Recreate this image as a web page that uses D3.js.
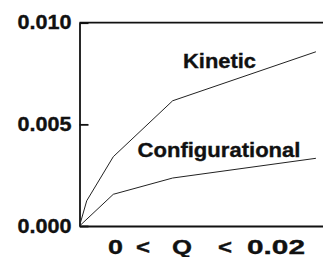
<!DOCTYPE html>
<html><head><meta charset="utf-8">
<script src="https://cdn.jsdelivr.net/npm/d3@7"></script>
<style>
html,body{margin:0;padding:0;background:#fff;}
text{font-family:"Liberation Sans",Arial,Helvetica,sans-serif;font-weight:bold;fill:#111;stroke:#111;stroke-width:0.35;}
</style></head>
<body><svg id="c" width="323" height="257"></svg>
<script>
const qValues = [0, 0.00061, 0.00286, 0.00788, 0.0200];
const kinetic = [0, 0.00124, 0.00341, 0.00616, 0.00857];
const configQ = [0, 0.00286, 0.00788, 0.0200];
const configurational = [0, 0.00156, 0.00236, 0.00333];
const yTicks = [0, 0.005, 0.010];
const seriesLabels = ["Kinetic", "Configurational"];
const xAxisTokens = ["0", "<", "Q", "<", "0.02"];

const svg = d3.select("#c");
const x = d3.scaleLinear().domain([0, 0.0206]).range([79.5, 323]);
const y = d3.scaleLinear().domain([0, 0.010]).range([226, 22.7]);

svg.append("line").attr("x1", x(0)).attr("x2", 323).attr("y1", y(0.010)).attr("y2", y(0.010))
  .attr("stroke", "#111").attr("stroke-width", 1.8);

const yAxis = svg.append("g").attr("transform", `translate(${x(0)},0)`)
  .call(d3.axisLeft(y).tickValues(yTicks).tickFormat(d3.format(".3f")).tickSize(-9).tickSizeOuter(0).tickPadding(8));
yAxis.select(".domain").attr("stroke", "#111").attr("stroke-width", 1.8);
yAxis.selectAll(".tick line").attr("stroke", "#111").attr("stroke-width", 1.8);
yAxis.selectAll(".tick text").attr("font-size", 19.5).attr("fill", "#111")
  .attr("font-family", '"Liberation Sans",Arial,sans-serif').attr("font-weight", "bold")
  .attr("textLength", 54).attr("lengthAdjust", "spacingAndGlyphs");

const xAxis = svg.append("g").attr("transform", `translate(0,${y(0)})`)
  .call(d3.axisBottom(x).tickValues([]).tickSizeOuter(0));
xAxis.select(".domain").attr("stroke", "#111").attr("stroke-width", 1.8);

const line = d3.line().x(d => x(d[0])).y(d => y(d[1]));
svg.append("path").datum(qValues.map((q, i) => [q, kinetic[i]]))
  .attr("d", line).attr("fill", "none").attr("stroke", "#222").attr("stroke-width", 1);
svg.append("path").datum(configQ.map((q, i) => [q, configurational[i]]))
  .attr("d", line).attr("fill", "none").attr("stroke", "#222").attr("stroke-width", 1);

svg.append("text").attr("x", 183).attr("y", 67.5).attr("font-size", 20.5)
  .attr("textLength", 73).attr("lengthAdjust", "spacingAndGlyphs").text(seriesLabels[0]);
svg.append("text").attr("x", 137.5).attr("y", 156.5).attr("font-size", 20.5)
  .attr("textLength", 163).attr("lengthAdjust", "spacingAndGlyphs").text(seriesLabels[1]);

const tokenX = [108, 136, 172, 218, 247];
const tokenW = [15, 14, 20, 14, 58];
svg.selectAll("text.xl").data(xAxisTokens).join("text").attr("class", "xl")
  .attr("x", (d, i) => tokenX[i]).attr("y", 254).attr("font-size", 21)
  .attr("textLength", (d, i) => tokenW[i]).attr("lengthAdjust", "spacingAndGlyphs")
  .text(d => d);
</script></body></html>
